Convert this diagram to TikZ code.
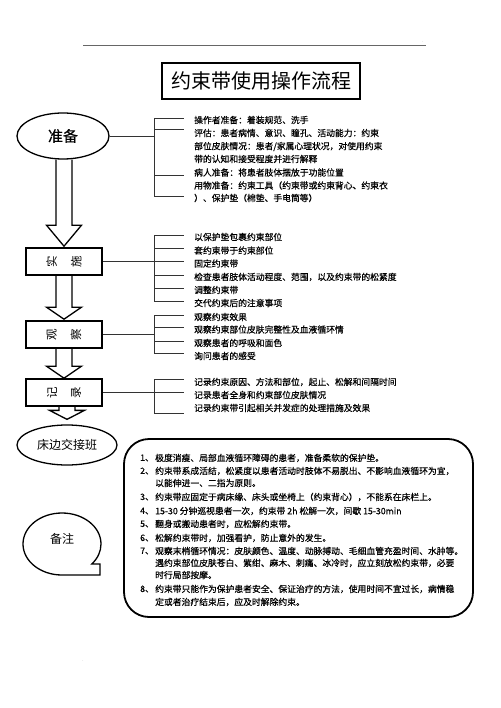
\documentclass[tikz,border=0pt]{standalone}
\usepackage{fontspec}
\usepackage{graphicx}
\setmainfont{Noto Sans CJK SC}
\newfontfamily\semib[FakeBold=0.5]{Noto Sans CJK SC}
\usetikzlibrary{shapes.geometric,calc}
\newcommand{\hollowarrow}[4]{%
  \draw[hollow] ($(#2.north |- #1.south)+(-8,0)$) -- ($(#2.north)+(-8,-#3-#4)$)
    -- ($(#2.north)+(-17.5,-#3-#4)$) -- ($(#2.north)+(0,-#4)$)
    -- ($(#2.north)+(17.5,-#3-#4)$) -- ($(#2.north)+(8,-#3-#4)$)
    -- ($(#2.north |- #1.south)+(8,0)$);}
\newcommand{\vchars}[2]{\rotatebox{90}{#1}\hspace{14pt}\rotatebox{90}{#2}}
\begin{document}
\begin{tikzpicture}[x=1pt,y=-1pt,
  txt/.style={anchor=west,inner sep=0pt,font=\semib\fontsize{8.8}{10}\selectfont},
  thinline/.style={line width=0.6pt,black!80},
  stagebox/.style={draw,line width=1.6pt,minimum width=76pt,minimum height=27pt,inner sep=0pt,font=\fontsize{11.5}{12}\selectfont},
  ovalnode/.style={draw,ellipse,line width=1.3pt,inner sep=0pt},
  hollow/.style={draw,line width=1.3pt,line join=miter},
]
\useasboundingbox (0,0) rectangle (500,708);

% top rule and specks
\draw[line width=0.6pt,black!60] (83,45) coordinate (tl1) -- (426,45) coordinate (tl2);
\node[inner sep=0pt,font=\fontsize{4}{4}\selectfont,text=black!50] (dot1) at (423,42) {.};
\node[inner sep=0pt,font=\fontsize{4}{4}\selectfont,text=black!50] (dot2) at (83,661) {.};

% title
\node[draw,line width=1.5pt,minimum width=198pt,minimum height=36pt,inner sep=0pt,
      font=\fontsize{20}{24}\selectfont] (title) at (261,81) {约束带使用操作流程};

% left column
\node[ovalnode,minimum width=92pt,minimum height=46pt,font=\semib\fontsize{15}{16}\selectfont] (prep) at (63,136) {准备};
\node[stagebox] (impl) at (64,261.5) {\vchars{实}{施}};
\node[stagebox] (obs) at (64,334.5) {\vchars{观}{察}};
\node[stagebox] (rec) at (64,392.5) {\vchars{记}{录}};
\node[ovalnode,minimum width=100pt,minimum height=40pt,font=\fontsize{12}{13}\selectfont] (bed) at (67,445) {床边交接班};

\hollowarrow{prep}{impl}{21}{1}
\hollowarrow{impl}{obs}{12}{1}
\hollowarrow{obs}{rec}{12}{0}
\hollowarrow{rec}{bed}{9}{5}

% 备注 callout
\draw[line width=1.3pt,line join=miter] (23,544) arc[start angle=180,end angle=400,x radius=39,y radius=31]
  -- (100,564) -- (100,575) -- (62,575) arc[start angle=90,end angle=180,x radius=39,y radius=31] -- cycle;
\node[inner sep=0pt,font=\fontsize{12}{13}\selectfont] (remark) at (62,539) {备注};

% brackets: 准备
\coordinate (bp) at (154,136);
\draw[thinline] (prep.east) -- (bp);
\draw[thinline] (154,118) -- (154,196);
\foreach \y in {118,129,175,196} \draw[thinline] (154,\y) -- (184,\y);
\node[txt] (p1) at (194,120) {操作者准备：着装规范、洗手};
\node[txt] (p2) at (194,133) {评估：患者病情、意识、瞳孔、活动能力：约束};
\node[txt] (p3) at (194,146.5) {部位皮肤情况：患者/家属心理状况，对使用约束};
\node[txt] (p4) at (194,159) {带的认知和接受程度并进行解释};
\node[txt] (p5) at (194,172.5) {病人准备：将患者肢体摆放于功能位置};
\node[txt] (p6) at (194,185.5) {用物准备：约束工具（约束带或约束背心、约束衣};
\node[txt] (p7) at (194,198) {）、保护垫（棉垫、手电筒等）};

% brackets: 实施
\coordinate (bi) at (184,261.5);
\draw[thinline] (impl.east) -- (bi);
\draw[thinline] (154,235) -- (154,301);
\foreach \y in {235,248,275,288,301} \draw[thinline] (154,\y) -- (184,\y);
\node[txt] (s1) at (194,237) {以保护垫包裹约束部位};
\node[txt] (s2) at (194,250.5) {套约束带于约束部位};
\node[txt] (s3) at (194,263.5) {固定约束带};
\node[txt] (s4) at (194,277) {检查患者肢体活动程度、范围，以及约束带的松紧度};
\node[txt] (s5) at (194,290) {调整约束带};
\node[txt] (s6) at (194,303) {交代约束后的注意事项};

% brackets: 观察
\coordinate (bo) at (154,334.5);
\draw[thinline] (obs.east) -- (bo);
\draw[thinline] (154,315) -- (154,353);
\foreach \y in {315,327,341,353} \draw[thinline] (154,\y) -- (184,\y);
\node[txt] (o1) at (194,317) {观察约束效果};
\node[txt] (o2) at (194,329.5) {观察约束部位皮肤完整性及血液循环情};
\node[txt] (o3) at (194,343) {观察患者的呼吸和面色};
\node[txt] (o4) at (194,356) {询问患者的感受};

% brackets: 记录
\coordinate (br) at (184,392.5);
\draw[thinline] (rec.east) -- (br);
\draw[thinline] (154,379) -- (154,413);
\foreach \y in {379,413} \draw[thinline] (154,\y) -- (184,\y);
\node[txt] (r1) at (194,382) {记录约束原因、方法和部位，起止、松解和间隔时间};
\node[txt] (r2) at (194,395) {记录患者全身和约束部位皮肤情况};
\node[txt] (r3) at (194,408) {记录约束带引起相关并发症的处理措施及效果};

% notes box
\node[draw,line width=1.8pt,rounded corners=25pt,minimum width=349pt,minimum height=178pt,inner sep=0pt] (notes) at (298.5,528) {};
\node[txt] (m1) at (140,458) {1、};
\node[txt] (n1) at (155,458) {极度消瘦、局部血液循环障碍的患者，准备柔软的保护垫。};
\node[txt] (m2) at (140,471) {2、};
\node[txt] (n2) at (155,471) {约束带系成活结，松紧度以患者活动时肢体不易脱出、不影响血液循环为宜，};
\node[txt] (n3) at (155,483) {以能伸进一、二指为原则。};
\node[txt] (m3) at (140,497) {3、};
\node[txt] (n4) at (155,497) {约束带应固定于病床缘、床头或坐椅上（约束背心），不能系在床栏上。};
\node[txt] (m4) at (140,511) {4、};
\node[txt] (n5) at (155,511) {15-30 分钟巡视患者一次，约束带 2h 松解一次，间歇 15-30min};
\node[txt] (m5) at (140,524) {5、};
\node[txt] (n6) at (155,524) {翻身或搬动患者时，应松解约束带。};
\node[txt] (m6) at (140,538) {6、};
\node[txt] (n7) at (155,538) {松解约束带时，加强看护，防止意外的发生。};
\node[txt] (m7) at (140,551) {7、};
\node[txt] (n8) at (155,551) {观察末梢循环情况：皮肤颜色、温度、动脉搏动、毛细血管充盈时间、水肿等。};
\node[txt] (n9) at (155,563) {遇约束部位皮肤苍白、紫绀、麻木、刺痛、冰冷时，应立刻放松约束带，必要};
\node[txt] (n10) at (155,575) {时行局部按摩。};
\node[txt] (m8) at (140,589) {8、};
\node[txt] (n11) at (155,589) {约束带只能作为保护患者安全、保证治疗的方法，使用时间不宜过长，病情稳};
\node[txt] (n12) at (155,602) {定或者治疗结束后，应及时解除约束。};
\end{tikzpicture}
\end{document}
